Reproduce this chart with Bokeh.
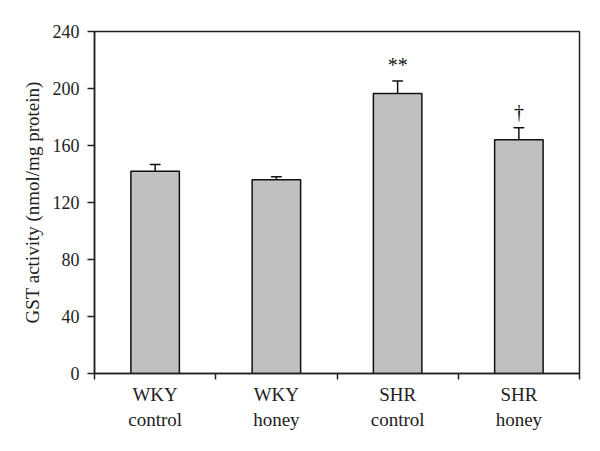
from bokeh.plotting import figure
from bokeh.models import FixedTicker, ColumnDataSource, Range1d
from bokeh.core.properties import value
from bokeh.embed import file_html
from bokeh.resources import INLINE

categories = ["WKY\ncontrol", "WKY\nhoney", "SHR\ncontrol", "SHR\nhoney"]
means = [142, 136, 196.5, 164]
errors = [4.7, 2.1, 8.8, 8.5]
marks = ["", "", "**", "\u2020"]
y_ticks = [0, 40, 80, 120, 160, 200, 240]

FONT = "Liberation Serif"
x = [i + 0.5 for i in range(len(categories))]
tops = [m + e for m, e in zip(means, errors)]

src = ColumnDataSource(dict(x=x, m=means, t=tops, mk=marks))

p = figure(width=592, height=443, output_backend="svg", toolbar_location=None,
           x_range=Range1d(0, 4), y_range=Range1d(0, 240),
           min_border_left=94, min_border_right=13, min_border_top=31, min_border_bottom=70)
p.grid.visible = False
p.outline_line_color = "#222222"
p.outline_line_width = 1.5
p.background_fill_color = "white"
p.border_fill_color = "white"

p.vbar(x="x", top="m", bottom=0, width=0.4, source=src,
       fill_color="#c0c0c0", line_color="#111111", line_width=1.5)
p.segment(x0="x", y0="m", x1="x", y1="t", source=src, line_color="#111111", line_width=1.5)
p.rect(x="x", y="t", width=10, height=0.001, width_units="screen", source=src,
       fill_alpha=0, line_color="#111111", line_width=1.5)
p.text(x="x", y="t", text="mk", source=src, text_align="center", text_baseline="bottom",
       y_offset=-5, text_font=value(FONT), text_font_size="20px", text_color="#111111")

p.xaxis.ticker = FixedTicker(ticks=x, minor_ticks=[0, 1, 2, 3, 4])
p.xaxis.major_label_overrides = {xi: c for xi, c in zip(x, categories)}
p.xaxis.major_tick_line_color = None
p.xaxis.minor_tick_out = 6
p.xaxis.minor_tick_in = 0
p.xaxis.minor_tick_line_color = "#222222"
p.xaxis.minor_tick_line_width = 1.5
p.xaxis.major_label_text_font = FONT
p.xaxis.major_label_text_font_size = "19px"
p.xaxis.major_label_text_color = "#222222"
p.xaxis.major_label_standoff = 4

p.yaxis.ticker = FixedTicker(ticks=y_ticks)
p.yaxis.minor_tick_line_color = None
p.yaxis.major_tick_out = 7
p.yaxis.major_tick_in = 0
p.yaxis.major_tick_line_width = 1.5
p.yaxis.major_tick_line_color = "#222222"
p.yaxis.major_label_text_font = FONT
p.yaxis.major_label_text_font_size = "18px"
p.yaxis.major_label_text_color = "#222222"
p.yaxis.major_label_standoff = 8
p.yaxis.axis_label = "GST activity (nmol/mg protein)"
p.yaxis.axis_label_text_font = FONT
p.yaxis.axis_label_text_font_style = "normal"
p.yaxis.axis_label_text_font_size = "19px"
p.yaxis.axis_label_text_color = "#222222"
p.yaxis.axis_label_standoff = 7

for ax in (p.xaxis, p.yaxis):
    ax.axis_line_color = "#222222"
    ax.axis_line_width = 1.5

open("out.html", "w").write(file_html(p, INLINE))
